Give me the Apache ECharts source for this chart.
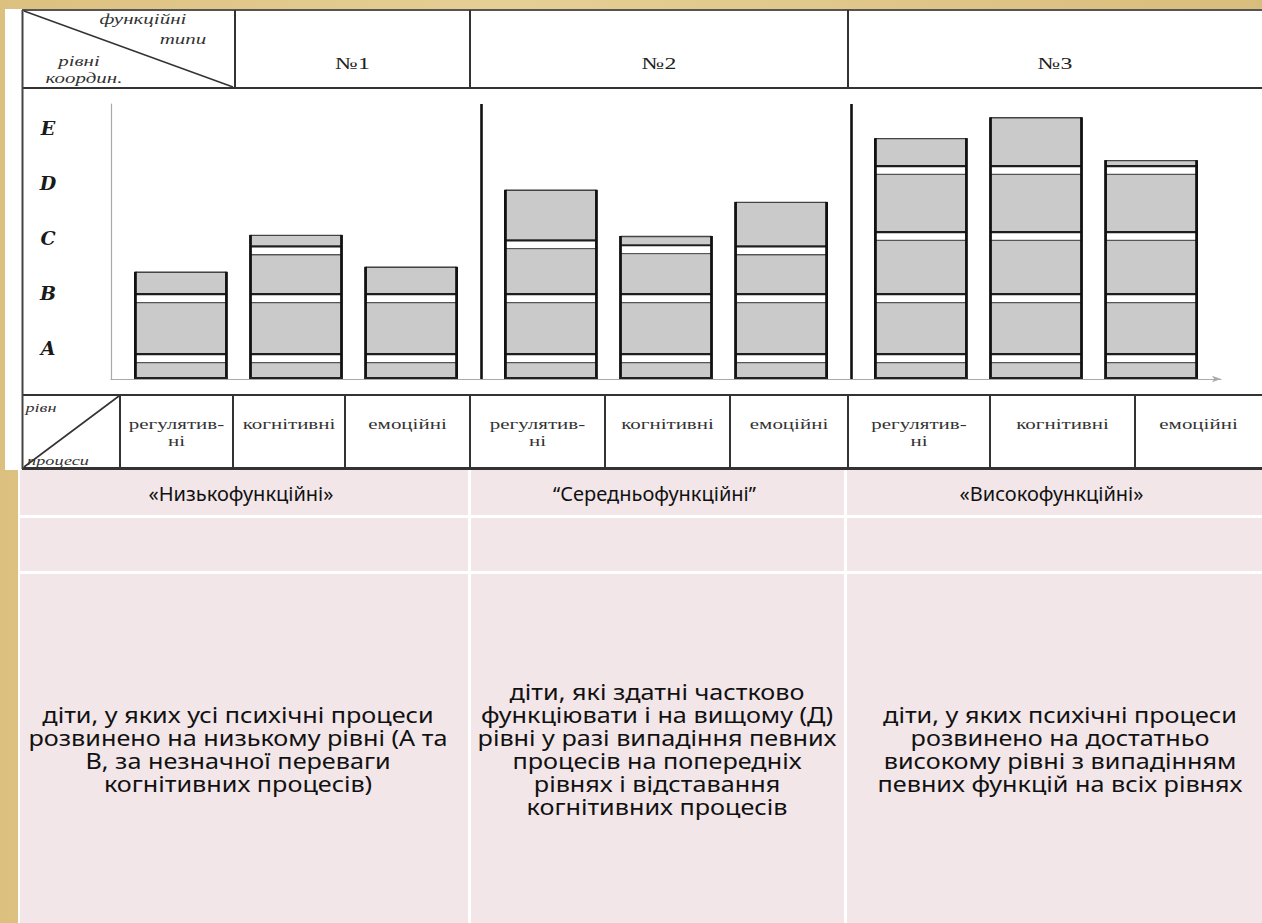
<!DOCTYPE html>
<html>
<head>
<meta charset="utf-8">
<script src="https://cdn.jsdelivr.net/npm/echarts@6/dist/echarts.min.js"></script>
<style>
  html, body { margin: 0; padding: 0; }
  body { background: linear-gradient(90deg, #dcc07f 0%, #e6cf95 40%, #d9bd7c 100%); }
  #chart { width: 1262px; height: 923px; }
</style>
</head>
<body>
<div id="chart"></div>
<script>
// ---------- data ----------
const groups = ['№1', '№2', '№3'];
const processLabels = ['регулятив-\nні', 'когнітивні', 'емоційні'];
const yLevels = ['A', 'B', 'C', 'D', 'E'];
const regulatoryTops = [1.95, 3.44, 4.38];
const cognitiveTops = [2.62, 2.60, 4.76];
const emotionalTops = [2.04, 3.22, 3.98];
const sharedBandStarts = [0.29, 1.38, 3.71];
const regulatoryBandC = [null, 2.36, 2.51];
const cognitiveBandC = [2.25, 2.27, 2.51];
const emotionalBandC = [null, 2.25, 2.51];
const bandHeight = 0.18;
const groupTitles = ['«Низькофункційні»', '“Середньофункційні”', '«Високофункційні»'];
const groupDescriptions = [
  'діти, у яких усі психічні процеси\nрозвинено на низькому рівні (А та\nВ, за незначної переваги\nкогнітивних процесів)',
  'діти, які здатні частково\nфункціювати і на вищому (Д)\nрівні у разі випадіння певних\nпроцесів на попередніх\nрівнях і відставання\nкогнітивних процесів',
  'діти, у яких психічні процеси\nрозвинено на достатньо\nвисокому рівні з випадінням\nпевних функцій на всіх рівнях'
];
const headerCorner = ['функційні', 'типи', 'рівні', 'координ.'];
const footerCorner = ['рівн', 'процеси'];

// ---------- layout helpers ----------
const tops = [regulatoryTops, cognitiveTops, emotionalTops];
const bandsC = [regulatoryBandC, cognitiveBandC, emotionalBandC];
const barOffsets = [-0.311, 0, 0.311];
const barWidthRatio = 0.246;
const serif = '"Liberation Serif", "DejaVu Serif", serif';
const sans = '"Noto Sans", "Open Sans", sans-serif';

function makeRender(p) {
  return function (params, api) {
    const g = api.value(0), top = api.value(1), c = api.value(2);
    const catW = api.size([1, 0])[0];
    const base = api.coord([g, 0]);
    const cx = base[0] + barOffsets[p] * catW;
    const bw = barWidthRatio * catW;
    const x0 = cx - bw / 2, x1 = cx + bw / 2;
    const yTop = api.coord([g, top])[1];
    const yBase = base[1];
    const children = [{
      type: 'rect', shape: { x: x0, y: yTop, width: bw, height: yBase - yTop },
      style: { fill: '#cacaca' }
    }];
    const starts = [sharedBandStarts[0], sharedBandStarts[1]];
    if (isFinite(c)) starts.push(c);
    starts.push(sharedBandStarts[2]);
    starts.forEach(function (s) {
      if (!(s < top)) return;
      const e = Math.min(s + bandHeight, top);
      const ys = api.coord([g, s])[1];
      const ye = api.coord([g, e])[1];
      children.push({ type: 'rect', shape: { x: x0, y: ye, width: bw, height: ys - ye }, style: { fill: '#ffffff' } });
      children.push({ type: 'line', shape: { x1: x0, y1: ye + 1, x2: x1, y2: ye + 1 }, style: { stroke: '#1e1e1e', lineWidth: 2.2 } });
      children.push({ type: 'line', shape: { x1: x0, y1: ys - 0.5, x2: x1, y2: ys - 0.5 }, style: { stroke: '#555', lineWidth: 1.3 } });
    });
    children.push({ type: 'line', shape: { x1: x0, y1: yTop + 0.5, x2: x1, y2: yTop + 0.5 }, style: { stroke: '#444', lineWidth: 1.4 } });
    children.push({ type: 'line', shape: { x1: x0, y1: yTop, x2: x0, y2: yBase }, style: { stroke: '#111', lineWidth: 2.8 } });
    children.push({ type: 'line', shape: { x1: x1, y1: yTop, x2: x1, y2: yBase }, style: { stroke: '#111', lineWidth: 2.8 } });
    children.push({ type: 'line', shape: { x1: x0 - 1, y1: yBase - 1, x2: x1 + 1, y2: yBase - 1 }, style: { stroke: '#222', lineWidth: 2 } });
    return { type: 'group', children: children };
  };
}

function txt(text, x, y, font, opts) {
  opts = opts || {};
  return {
    type: 'text', x: x, y: y, z: 50,
    scaleX: opts.scaleX || 1, scaleY: 1,
    style: {
      text: text, x: 0, y: 0, font: font, fill: opts.fill || '#2a2a2a',
      textAlign: opts.align || 'center', align: opts.align || 'center',
      textVerticalAlign: opts.valign || 'middle', verticalAlign: opts.valign || 'middle',
      lineHeight: opts.lineHeight || undefined
    }
  };
}
function ln(x1, y1, x2, y2, w, c) {
  return { type: 'line', z: 40, shape: { x1: x1, y1: y1, x2: x2, y2: y2 }, style: { stroke: c || '#222', lineWidth: w || 2 } };
}
function rc(x, y, w, h, fill, z) {
  return { type: 'rect', z: z === undefined ? -10 : z, shape: { x: x, y: y, width: w, height: h }, style: { fill: fill } };
}

const graphics = [];
// white diagram block
graphics.push(rc(5, 9, 1257, 461, '#ffffff'));
// pink table block
graphics.push(rc(18, 470, 1244, 453, '#ffffff'));
const colX = [[20, 468], [471, 844], [847, 1262]];
const rowY = [[470, 515], [518, 571], [574, 923]];
colX.forEach(function (cx) {
  rowY.forEach(function (ry) {
    graphics.push(rc(cx[0], ry[0], cx[1] - cx[0], ry[1] - ry[0], '#f2e6e9'));
  });
});
const descX = [238, 657, 1060];
colX.forEach(function (cx, i) {
  const mid = (cx[0] + cx[1]) / 2;
  graphics.push(txt(groupTitles[i], mid - 3, 493, '20px ' + sans, { fill: '#111' }));
  graphics.push(txt(groupDescriptions[i], descX[i], 749, '21px ' + sans, { fill: '#111', lineHeight: 23, scaleX: 1.2 }));
});

// diagram frame lines
graphics.push(ln(22, 10, 1262, 10, 2, '#555'));
graphics.push(ln(22, 88, 1262, 88, 2, '#333'));
graphics.push(ln(22, 395, 1262, 395, 2, '#333'));
graphics.push(ln(22, 468.5, 1262, 468.5, 3, '#333'));
graphics.push(ln(22.5, 10, 22.5, 469, 2, '#444'));
[235, 470, 848].forEach(function (x) { graphics.push(ln(x, 10, x, 88, 2, '#333')); });
[120, 233, 345, 470, 605, 730, 848, 990, 1135].forEach(function (x) { graphics.push(ln(x, 395, x, 469, 2, '#333')); });
graphics.push(ln(24, 11, 233, 87, 1.6, '#333'));
graphics.push(ln(24, 467, 119, 396, 1.6, '#333'));

// header texts
const hdr = [[235, 470], [470, 848], [848, 1262]];
hdr.forEach(function (h, i) {
  graphics.push(txt(groups[i], (h[0] + h[1]) / 2, 63, '17px ' + serif, { scaleX: 1.4, fill: '#222' }));
});
graphics.push(txt(headerCorner[0], 143, 19, 'italic 15px ' + serif, { scaleX: 1.4, fill: '#333' }));
graphics.push(txt(headerCorner[1], 183, 39, 'italic 15px ' + serif, { scaleX: 1.4, fill: '#333' }));
graphics.push(txt(headerCorner[2], 79, 61, 'italic 15px ' + serif, { scaleX: 1.4, fill: '#333' }));
graphics.push(txt(headerCorner[3], 84, 78, 'italic 15px ' + serif, { scaleX: 1.4, fill: '#333' }));

// footer row texts
const cellX = [120, 233, 345, 470, 605, 730, 848, 990, 1135, 1262];
for (let i = 0; i < 9; i++) {
  const mid = (cellX[i] + cellX[i + 1]) / 2;
  graphics.push(txt(processLabels[i % 3], mid, 416, '15px ' + serif, { scaleX: 1.4, valign: 'top', lineHeight: 17, fill: '#333' }));
}
graphics.push(txt(footerCorner[0], 41, 407, 'italic 13px ' + serif, { scaleX: 1.4, fill: '#333' }));
graphics.push(txt(footerCorner[1], 58, 460, 'italic 13px ' + serif, { scaleX: 1.4, fill: '#333' }));

const chart = echarts.init(document.getElementById('chart'), null, { renderer: 'svg', width: 1262, height: 923 });
chart.setOption({
  animation: false,
  backgroundColor: 'transparent',
  graphic: { elements: graphics },
  grid: [
    { left: 111, right: 41, top: 104, bottom: 544 },
    { left: 111, width: 10, top: 100, height: 275 }
  ],
  xAxis: [
    {
      type: 'category', gridIndex: 0, data: groups, boundaryGap: true,
      axisLine: { show: true, symbol: ['none', 'arrow'], symbolSize: [5, 9], lineStyle: { color: '#aaa', width: 1.2 } },
      axisTick: { show: false }, axisLabel: { show: false },
      splitLine: { show: true, showMinLine: false, showMaxLine: false, lineStyle: { color: '#111', width: 2.6 } }
    },
    { type: 'value', gridIndex: 1, show: false }
  ],
  yAxis: [
    {
      type: 'value', gridIndex: 0, min: 0, max: 5, interval: 1,
      axisLine: { show: true, lineStyle: { color: '#aaa', width: 1.2 } },
      axisTick: { show: false }, axisLabel: { show: false }, splitLine: { show: false }
    },
    {
      type: 'category', gridIndex: 1, data: yLevels,
      axisLine: { show: false }, axisTick: { show: false }, splitLine: { show: false },
      axisLabel: { margin: 63, align: 'center', fontFamily: '"DejaVu Serif", serif', fontWeight: 'bold', fontStyle: 'italic', fontSize: 19, color: '#1a1a1a' }
    }
  ],
  series: tops.map(function (arr, p) {
    return {
      type: 'custom', name: processLabels[p], xAxisIndex: 0, yAxisIndex: 0,
      data: arr.map(function (t, g) { return [g, t, bandsC[p][g]]; }),
      renderItem: makeRender(p),
      encode: { x: 0, y: 1 }
    };
  })
});
</script>
</body>
</html>
